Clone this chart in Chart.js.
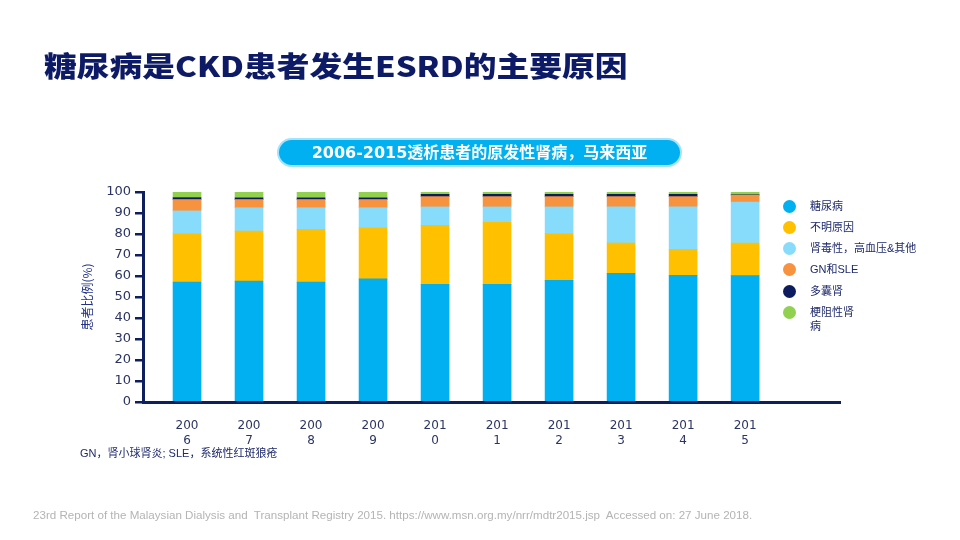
<!DOCTYPE html>
<html>
<head>
<meta charset="utf-8">
<script src="https://cdn.jsdelivr.net/npm/chart.js@4/dist/chart.umd.min.js"></script>
<style>
  body { margin: 0; background: #fff; }
  #page { position: relative; width: 960px; height: 540px; overflow: hidden; font-family: "Noto Sans CJK SC", sans-serif; }
  #page canvas { position: absolute; left: 0; top: 0; }
  .title { position: absolute; left: 44px; top: 48px; font-size: 28px; line-height: 34px; font-weight: 900; color: #0d1a66; white-space: nowrap; transform-origin: left center; transform: scaleX(1.17); }
  .pill { position: absolute; left: 277px; top: 138px; width: 405px; height: 29px; box-sizing: border-box; border: 2px solid #a3e3fb; border-radius: 15px; background: #00b0f0; color: #fff; font-family: "DejaVu Sans", "Noto Sans CJK SC", sans-serif; font-weight: bold; font-size: 16px; line-height: 25px; text-align: center; white-space: nowrap; }
  .legend { position: absolute; left: 0; top: 0; }
  .legend .item { position: absolute; left: 783px; height: 14px; font-family: "Liberation Sans", "Noto Sans CJK SC", sans-serif; font-size: 11px; line-height: 14px; color: #1f2a6b; white-space: nowrap; }
  .legend .dot { position: absolute; left: 0; top: 0.5px; width: 13px; height: 13px; border-radius: 50%; }
  .legend .txt { position: absolute; left: 27px; top: 0; }
  .note { position: absolute; left: 80px; top: 445px; font-family: "Liberation Sans", "Noto Sans CJK SC", sans-serif; font-size: 11px; line-height: 16px; color: #1f2a6b; white-space: nowrap; }
  .source { position: absolute; left: 33px; top: 508px; font-family: "Liberation Sans", sans-serif; font-size: 11.6px; line-height: 14px; color: #b4b4b4; white-space: nowrap; }
</style>
</head>
<body>
<div id="page">
  <canvas id="myChart" width="960" height="540"></canvas>
  <div class="title">糖尿病是CKD患者发生ESRD的主要原因</div>
  <div class="pill">2006-2015透析患者的原发性肾病，马来西亚</div>
  <div class="legend" id="legend"></div>
  <div class="note">GN，肾小球肾炎; SLE，系统性红斑狼疮</div>
  <div class="source">23rd Report of the Malaysian Dialysis and&nbsp; Transplant Registry 2015. https://www.msn.org.my/nrr/mdtr2015.jsp&nbsp; Accessed on: 27 June 2018.</div>
</div>
<script>
// #################### Data ####################

const years = ["2006", "2007", "2008", "2009", "2010", "2011", "2012", "2013", "2014", "2015"];
const yTicks = [0, 10, 20, 30, 40, 50, 60, 70, 80, 90, 100];

const diabetes = [57.1, 57.6, 57.1, 58.6, 56.0, 56.0, 57.9, 61.3, 60.3, 60.2];
const unknown = [23.1, 23.8, 25.1, 24.3, 28.1, 29.6, 22.3, 14.4, 12.4, 15.5];
const toxicHtn = [10.8, 11.1, 10.3, 9.6, 8.8, 7.3, 12.7, 17.2, 20.2, 19.5];
const gnSle = [5.4, 3.9, 3.9, 3.9, 4.9, 4.9, 4.9, 4.9, 4.9, 3.3];
const polycystic = [0.9, 0.8, 0.8, 0.8, 1.1, 1.1, 1.1, 1.1, 1.1, 0.2];
const obstructive = [2.7, 2.8, 2.8, 2.8, 1.1, 1.1, 1.1, 1.1, 1.1, 1.3];

const seriesNames = ["糖尿病", "不明原因", "肾毒性，高血压&其他", "GN和SLE", "多囊肾", "梗阻性肾病"];
const seriesData = [diabetes, unknown, toxicHtn, gnSle, polycystic, obstructive];
const seriesColors = ["#00b0f0", "#ffc000", "#87dcfc", "#f7923e", "#0c1c5e", "#92d050"];

const navy = "#0e1f5f";
const tickColor = "#2b3462";

// #################### Legend (HTML) ####################

const legendTops = [199, 220, 241, 262, 284, 305];
const legendBox = document.getElementById("legend");
seriesNames.forEach((name, i) => {
  const item = document.createElement("div");
  item.className = "item";
  item.style.top = legendTops[i] + "px";
  // last one wraps like the original
  const label = name === "梗阻性肾病" ? "梗阻性肾<br>病" : name;
  item.innerHTML = `<span class="dot" style="background:${seriesColors[i]}"></span><span class="txt">${label}</span>`;
  legendBox.appendChild(item);
});

// #################### Chart.JS ####################

const ctx = document.getElementById("myChart");
const myChart = new Chart(ctx, {
  type: "bar",
  data: {
    datasets: seriesData.map((values, i) => ({
      label: seriesNames[i],
      data: values.map((v, idx) => ({ x: idx, y: v })),
      backgroundColor: seriesColors[i],
      borderWidth: 0,
      barThickness: 28,
    })),
  },
  options: {
    responsive: false,
    animation: false,
    layout: {
      padding: { left: 70, top: 192, right: 120, bottom: 78 },
    },
    plugins: {
      legend: { display: false },
      tooltip: { enabled: false },
    },
    scales: {
      x: {
        type: "linear",
        stacked: true,
        offset: false,
        min: -0.71,
        max: 10.53,
        afterBuildTicks: (scale) => {
          scale.ticks = years.map((_, i) => ({ value: i }));
        },
        afterFit: (scale) => {
          scale.height = 60;
        },
        grid: { display: false, drawTicks: false },
        border: { display: true, color: navy, width: 3 },
        ticks: {
          autoSkip: false,
          maxRotation: 0,
          padding: 17,
          color: tickColor,
          font: { family: "DejaVu Sans", size: 12, lineHeight: 1.2 },
          callback: (value) => {
            const y = years[value];
            return y ? [y.slice(0, 3), y.slice(3)] : "";
          },
        },
      },
      y: {
        stacked: true,
        min: 0,
        max: 100,
        afterBuildTicks: (scale) => {
          scale.ticks = yTicks.map((v) => ({ value: v }));
        },
        afterFit: (scale) => {
          scale.width = 73;
        },
        grid: {
          display: true,
          drawOnChartArea: false,
          drawTicks: true,
          tickLength: 8,
          color: navy,
          lineWidth: 2.5,
        },
        border: { display: true, color: navy, width: 3 },
        ticks: {
          padding: 4,
          color: tickColor,
          font: { family: "DejaVu Sans", size: 13 },
        },
        title: {
          display: true,
          text: "患者比例(%)",
          color: "#22318a",
          padding: { top: 10, bottom: 4 },
          font: { family: "Noto Sans CJK SC", size: 12 },
        },
      },
    },
  },
});
</script>
</body>
</html>
